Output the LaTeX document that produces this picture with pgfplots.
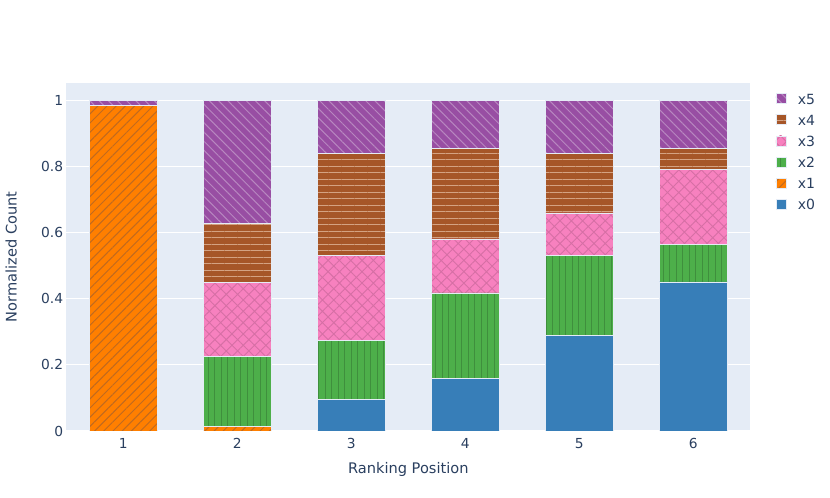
\documentclass[border=0pt]{standalone}
\usepackage{fontspec}
\setmainfont{DejaVu Sans}
\usepackage{pgfplots}
\pgfplotsset{compat=1.18}
\usetikzlibrary{patterns.meta}
\definecolor{c0}{HTML}{377EB8}
\definecolor{c1}{HTML}{FF7F00}
\definecolor{c2}{HTML}{4DAF4A}
\definecolor{c3}{HTML}{F781BF}
\definecolor{c4}{HTML}{A65628}
\definecolor{c5}{HTML}{984EA3}
\definecolor{p1}{HTML}{C06A20}
\definecolor{p2}{HTML}{3F8F3D}
\definecolor{p3}{HTML}{D66FA5}
\definecolor{p4}{HTML}{D4A282}
\definecolor{p5}{HTML}{B887C0}
\definecolor{bg}{HTML}{E5ECF6}
\definecolor{txt}{HTML}{2A3F5F}
\pgfplotsset{
  myleg/.style={legend image code/.code={\draw[##1] (0bp,-3.2bp) rectangle (10bp,6.8bp);}},
}
\begin{document}
\begin{tikzpicture}
\path[use as bounding box] (0,0) rectangle (830bp,498bp);
\begin{axis}[
  at={(66.3bp,67bp)}, anchor=south west,
  scale only axis, width=684bp, height=348bp,
  xmin=0.5, xmax=6.5, ymin=0, ymax=1.05263,
  ybar stacked, bar width=0.6,
  axis background/.style={fill=bg},
  axis line style={draw=none},
  major tick length=0pt,
  ymajorgrids, grid style={white, line width=1bp},
  xtick={1,2,3,4,5,6}, xticklabels={1,2,3,4,5,6},
  ytick={0,0.2,0.4,0.6,0.8,1}, yticklabels={0,0.2,0.4,0.6,0.8,1},
  yticklabel style={font=\fontsize{13.8bp}{16bp}\selectfont, text=txt, inner sep=0pt, anchor=east, xshift=-3bp},
  xticklabel style={font=\fontsize{13.8bp}{16bp}\selectfont, text=txt, inner sep=0pt, anchor=north, yshift=-7.3bp},
  xlabel={Ranking Position},
  xlabel style={at={(axis description cs:0.5,-0.12155)}, anchor=base, inner sep=0pt, font=\fontsize{14.6bp}{17bp}\selectfont, text=txt},
  ylabel={Normalized Count},
  ylabel style={at={(axis description cs:-0.07251,0.5)}, rotate=0, anchor=base, inner sep=0pt, font=\fontsize{14.6bp}{17bp}\selectfont, text=txt},
  legend style={at={(axis description cs:1.0371,0.9704)}, anchor=north west, draw=none, fill=none, inner sep=0pt, outer sep=0pt, row sep=7.35bp, column sep=11.6bp, font=\fontsize{14bp}{16bp}\selectfont, text=txt, nodes={inner sep=0pt, text height=10.5bp, text depth=3bp}},
  legend cell align=left, reverse legend,
]
\addplot[fill=c0, draw=bg, line width=0.5bp, myleg] coordinates {(1,0) (2,0) (3,0.096) (4,0.159) (5,0.29) (6,0.451)};
\addlegendentry{x0}
\addplot[fill=c1, draw=bg, line width=0.5bp, postaction={pattern={Lines[angle=45,distance=6.5bp,line width=1bp]}, pattern color=p1}, myleg] coordinates {(1,0.985) (2,0.015) (3,0) (4,0) (5,0) (6,0)};
\addlegendentry{x1}
\addplot[fill=c2, draw=bg, line width=0.5bp, postaction={pattern={Lines[angle=90,distance=6.5bp,line width=1bp]}, pattern color=p2}, myleg] coordinates {(1,0) (2,0.21) (3,0.177) (4,0.259) (5,0.242) (6,0.113)};
\addlegendentry{x2}
\addplot[fill=c3, draw=bg, line width=0.5bp, postaction={pattern={Hatch[angle=45,distance=8bp,line width=0.9bp]}, pattern color=p3}, myleg] coordinates {(1,0) (2,0.225) (3,0.259) (4,0.163) (5,0.128) (6,0.228)};
\addlegendentry{x3}
\addplot[fill=c4, draw=bg, line width=0.5bp, postaction={pattern={Lines[angle=0,distance=6.5bp,line width=1bp]}, pattern color=p4}, myleg] coordinates {(1,0) (2,0.178) (3,0.308) (4,0.273) (5,0.18) (6,0.063)};
\addlegendentry{x4}
\addplot[fill=c5, draw=bg, line width=0.5bp, postaction={pattern={Lines[angle=-45,distance=6.5bp,line width=1bp]}, pattern color=p5}, myleg] coordinates {(1,0.015) (2,0.372) (3,0.16) (4,0.146) (5,0.16) (6,0.145)};
\addlegendentry{x5}
\end{axis}
\end{tikzpicture}
\end{document}
